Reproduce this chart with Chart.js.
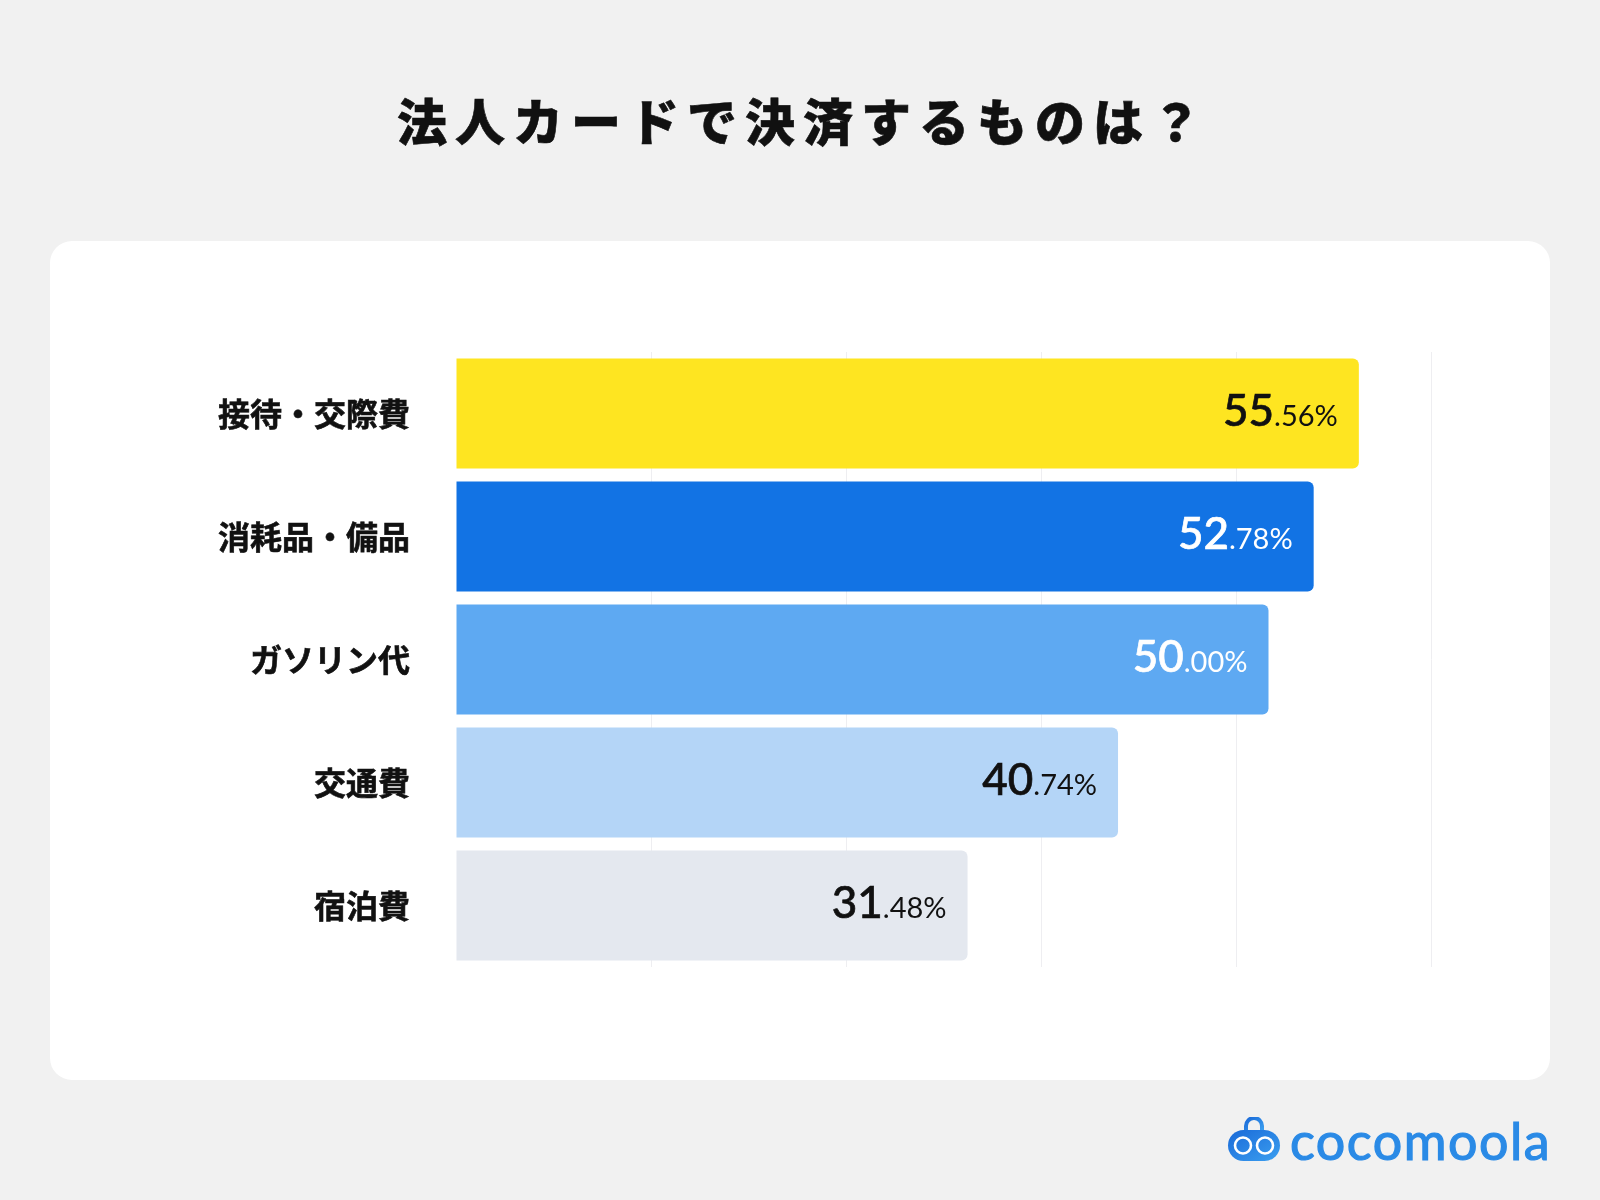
<!DOCTYPE html>
<html lang="ja">
<head>
<meta charset="utf-8">
<script src="https://cdn.jsdelivr.net/npm/chart.js@4.4.1/dist/chart.umd.min.js"></script>
<style>
  html, body { margin: 0; padding: 0; }
  body { width: 1600px; height: 1200px; background: #f1f1f1; position: relative; overflow: hidden; font-family: "Noto Sans CJK JP", sans-serif; }
  #title { position: absolute; left: 0; top: 94px; width: 1600px; text-align: center; font-size: 50px; line-height: 50px; font-weight: 900; letter-spacing: 8px; color: #111; padding-left: 6px; box-sizing: border-box; -webkit-text-stroke: 0.6px #111; }
  #card { position: absolute; left: 50px; top: 241px; width: 1500px; height: 839px; background: #fff; border-radius: 22px; }
  #chart { position: absolute; left: 0; top: 0; }
  #logo { position: absolute; left: 1226px; top: 1112px; height: 56px; display: flex; align-items: center; }
  #logo span { font-family: "Lato", sans-serif; font-weight: 400; font-size: 52px; color: #2a8ae6; letter-spacing: 1.5px; margin-left: 8px; line-height: 56px;
    -webkit-text-stroke: 1.2px #2a8ae6; }
</style>
</head>
<body>
<div id="title">法人カードで決済するものは？</div>
<div id="card"><canvas id="chart" width="1500" height="839"></canvas></div>
<div id="logo">
  <svg width="56" height="46" viewBox="0 0 56 46">
    <defs><linearGradient id="g" x1="0" y1="0" x2="1" y2="1"><stop offset="0" stop-color="#1a6ad8"/><stop offset="1" stop-color="#3b9ff0"/></linearGradient></defs>
    <path d="M20 14 V9 a8 8 0 0 1 16 0 V14" fill="none" stroke="url(#g)" stroke-width="4" stroke-linecap="round"/>
    <rect x="2" y="13" width="52" height="31" rx="15.5" fill="url(#g)"/>
    <circle cx="17" cy="28.5" r="8" fill="none" stroke="#fff" stroke-width="2.6"/>
    <circle cx="39" cy="28.5" r="8" fill="none" stroke="#fff" stroke-width="2.6"/>
  </svg>
  <span>cocomoola</span>
</div>
<script>
const categories = ["接待・交際費", "消耗品・備品", "ガソリン代", "交通費", "宿泊費"];
const values = [55.56, 52.78, 50.00, 40.74, 31.48];
const barColors = ["#fee521", "#1273e4", "#5ea9f2", "#b4d5f7", "#e4e8ef"];
const valueLabelColors = ["#111111", "#ffffff", "#ffffff", "#111111", "#111111"];
const axisMax = 60;
const axisStep = 12;

const valueLabels = {
  id: 'valueLabels',
  afterDatasetsDraw(chart) {
    const ctx = chart.ctx;
    const meta = chart.getDatasetMeta(0);
    meta.data.forEach((bar, i) => {
      const s = values[i].toFixed(2);
      const [intPart, decPart] = s.split('.');
      const dec = '.' + decPart + '%';
      ctx.save();
      ctx.fillStyle = valueLabelColors[i];
      ctx.strokeStyle = valueLabelColors[i];
      ctx.textBaseline = 'alphabetic';
      ctx.textAlign = 'right';
      const right = bar.x - 21;
      const baseY = bar.y + 12;
      ctx.font = '400 29px Lato, sans-serif';
      const dw = ctx.measureText(dec).width;
      ctx.fillText(dec, right, baseY);
      ctx.font = '500 44px Lato, sans-serif';
      ctx.lineWidth = 0.7;
      ctx.fillText(intPart, right - dw, baseY);
      ctx.strokeText(intPart, right - dw, baseY);
      ctx.restore();
    });
  }
};

new Chart(document.getElementById('chart'), {
  type: 'bar',
  data: {
    labels: categories,
    datasets: [{
      data: values,
      backgroundColor: barColors,
      borderRadius: 6,
      barPercentage: 0.894,
      categoryPercentage: 1.0
    }]
  },
  options: {
    indexAxis: 'y',
    responsive: false,
    animation: false,
    layout: { padding: { left: 0, right: 119, top: 111, bottom: 113 } },
    plugins: { legend: { display: false }, tooltip: { enabled: false } },
    scales: {
      x: {
        min: 0, max: axisMax,
        ticks: { display: false, stepSize: axisStep },
        grid: { color: (c) => (c.tick && c.tick.value === 0 ? 'rgba(0,0,0,0)' : '#eeeef1'), lineWidth: 1, drawTicks: false },
        border: { display: false },
        afterFit(scale) { scale.height = 0; }
      },
      y: {
        ticks: { color: '#111', font: { family: '"Noto Sans CJK JP", sans-serif', size: 32, weight: '700' }, padding: 46, textStrokeColor: '#111', textStrokeWidth: 0.6 },
        grid: { display: false, drawTicks: false },
        border: { display: false },
        afterFit(scale) { scale.width = 406; }
      }
    }
  },
  plugins: [valueLabels]
});
</script>
</body>
</html>
